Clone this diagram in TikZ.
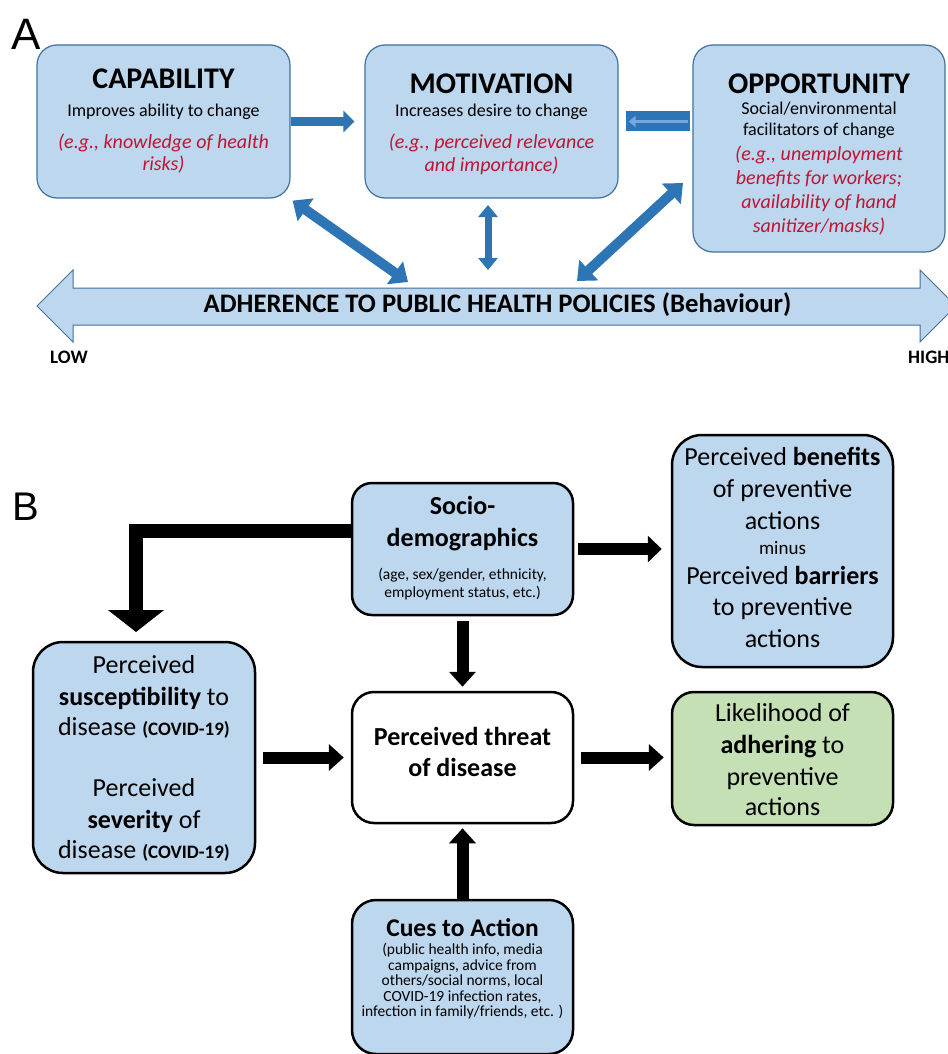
\documentclass[tikz,border=0pt]{standalone}
\usepackage{fontspec}
\setmainfont{Carlito}
\newfontfamily\labelfont{Liberation Sans}
\usetikzlibrary{arrows.meta}
\lineskiplimit=-100pt
\definecolor{boxblue}{RGB}{189,215,238}
\definecolor{edgeblue}{RGB}{65,113,156}
\definecolor{arrblue}{RGB}{46,117,182}
\definecolor{innerblue}{RGB}{115,168,222}
\definecolor{redtxt}{RGB}{192,20,50}
\definecolor{boxgreen}{RGB}{197,224,180}
\newcommand\ft[1]{\fontsize{#1}{15}\selectfont}
\begin{document}
\begin{tikzpicture}[x=1pt,y=-1pt,
  abox/.style={draw=edgeblue, line width=1.2pt, fill=boxblue, rounded corners=20pt, inner sep=0pt},
  bbox/.style={draw=black, line width=2.5pt, rounded corners=#1, inner sep=0pt},
  txt/.style={anchor=north, align=center, inner sep=0pt, font=\fontsize{10}{15}\selectfont},
  ablue/.style={draw=arrblue, line width=#1},
  bblack/.style={draw=black, line width=#1},
]
\useasboundingbox (0,0) rectangle (947,1054);
\fill[white] (0,0) rectangle (947,1054);

% ---------------- Panel A ----------------
\node[anchor=base west, inner sep=0pt, font=\labelfont\fontsize{44}{44}\selectfont] (labA) at (11,50) {A};

\node[abox, minimum width=253pt, minimum height=153pt] (cap) at (163.5,121.5) {};
\node[abox, minimum width=253pt, minimum height=153pt] (mot) at (491.5,121.5) {};
\node[abox, minimum width=252pt, minimum height=207pt] (opp) at (819,148.5) {};

\node[txt] (capt) at (163.5,68.7) {{\ft{30}\bfseries CAPABILITY}\\[13pt]
  {\ft{18}Improves ability to change}\\[17pt]
  {\ft{20}\itshape\color{redtxt}(e.g., knowledge of health}\\[7pt]
  {\ft{20}\itshape\color{redtxt}risks)}};
\node[txt] (mott) at (491.5,73.5) {{\ft{30}\bfseries MOTIVATION}\\[8pt]
  {\ft{18}Increases desire to change}\\[17pt]
  {\ft{20}\itshape\color{redtxt}(e.g., perceived relevance}\\[8pt]
  {\ft{20}\itshape\color{redtxt}and importance)}};
\node[txt] (oppt) at (819,73.5) {{\ft{30}\bfseries OPPORTUNITY}\\[6pt]
  {\ft{18}Social/environmental}\\[6pt]
  {\ft{18}facilitators of change}\\[10pt]
  {\ft{20}\itshape\color{redtxt}(e.g., unemployment}\\[9pt]
  {\ft{20}\itshape\color{redtxt}benefits for workers;}\\[9pt]
  {\ft{20}\itshape\color{redtxt}availability of hand}\\[9pt]
  {\ft{20}\itshape\color{redtxt}sanitizer/masks)}};

% big double arrow (behaviour axis)
\filldraw[fill=boxblue, draw=edgeblue, line width=1pt]
  (37,306) -- (73,270) -- (73,288) -- (920,288) -- (920,270) -- (956,306)
  -- (920,342) -- (920,325) -- (73,325) -- (73,342) -- cycle;
\node[anchor=base, inner sep=0pt, font=\ft{26.7}\bfseries] (bar) at (497.5,312)
  {ADHERENCE TO PUBLIC HEALTH POLICIES (Behaviour)};
\node[anchor=base west, inner sep=0pt, font=\ft{19}\bfseries] (low) at (50,363) {LOW};
\node[anchor=base west, inner sep=0pt, font=\ft{19}\bfseries] (high) at (908,363) {HIGH};

\coordinate (barA) at (408,282);
\coordinate (barB) at (488,270);
\coordinate (motB) at (488,205);
\coordinate (oppC) at (683,183);
\coordinate (barC) at (577,281);

% arrows panel A
\draw[ablue=9pt, -{Triangle[length=11pt,width=21pt]}] (cap.east) -- ([xshift=-10pt]mot.west);
\draw[ablue=20pt] ([xshift=-2pt]opp.west |- mot.east) -- ([xshift=7pt]mot.east);
\draw[draw=innerblue, line width=3.5pt, -{Triangle[length=7pt,width=11pt]}]
  ([xshift=-4pt]opp.west |- mot.east) -- ([xshift=10pt]mot.east);
\draw[ablue=10pt, {Triangle[length=16pt,width=27pt]}-{Triangle[length=16pt,width=27pt]}]
  ([xshift=2pt,yshift=-2pt]cap.south east) -- (barA);
\draw[ablue=7pt, {Triangle[length=12pt,width=19pt]}-{Triangle[length=12pt,width=19pt]}]
  (motB) -- (barB);
\draw[ablue=10pt, {Triangle[length=16pt,width=27pt]}-{Triangle[length=16pt,width=27pt]}]
  (oppC) -- (barC);

% ---------------- Panel B ----------------
\node[anchor=base west, inner sep=0pt, font=\labelfont\fontsize{40}{40}\selectfont] (labB) at (12,520) {B};

\node[bbox=20pt, fill=boxblue, minimum width=221pt, minimum height=132pt] (soc) at (462.5,549) {};
\node[bbox=30pt, fill=boxblue, minimum width=221pt, minimum height=232pt] (ben) at (782.5,551) {};
\node[bbox=22pt, fill=boxgreen, minimum width=221pt, minimum height=133pt] (like) at (782.5,758.5) {};
\node[bbox=22pt, fill=white, minimum width=221pt, minimum height=131pt] (thr) at (462.5,757.5) {};
\node[bbox=30pt, fill=boxblue, minimum width=222pt, minimum height=231pt] (sus) at (144,757.5) {};
\node[bbox=24pt, fill=boxblue, minimum width=221pt, minimum height=154pt] (cue) at (462.5,977) {};

\node[txt] (soct) at (462.5,496) {{\ft{26}\bfseries Socio-}\\[17pt]
  {\ft{26}\bfseries demographics}\\[18pt]
  {\ft{15.5}(age, sex/gender, ethnicity,}\\[3pt]
  {\ft{15.5}employment status, etc.)}};
\node[txt] (bent) at (782.5,447) {{\ft{26}Perceived \textbf{benefits}}\\[17pt]
  {\ft{26}of preventive}\\[17pt]
  {\ft{26}actions}\\[10pt]
  {\ft{19}minus}\\[15pt]
  {\ft{26}Perceived \textbf{barriers}}\\[16pt]
  {\ft{26}to preventive}\\[17pt]
  {\ft{26}actions}};
\node[txt] (liket) at (782.5,703) {{\ft{26}Likelihood of}\\[17pt]
  {\ft{26}\textbf{adhering} to}\\[17pt]
  {\ft{26}preventive}\\[15pt]
  {\ft{26}actions}};
\node[txt] (thrt) at (462.5,727.5) {{\ft{26}\bfseries Perceived threat}\\[16pt]
  {\ft{26}\bfseries of disease}};
\node[txt] (sust) at (144,655) {{\ft{26}Perceived}\\[17pt]
  {\ft{26}\textbf{susceptibility} to}\\[15pt]
  {\ft{26}disease \ft{19}\textbf{(COVID-19)}}\\[46pt]
  {\ft{26}Perceived}\\[17pt]
  {\ft{26}\textbf{severity} of}\\[15pt]
  {\ft{26}disease \ft{19}\textbf{(COVID-19)}}};
\node[txt] (cuet) at (462.5,918) {{\ft{25.5}\bfseries Cues to Action}\\[3pt]
  {\ft{15.5}(public health info, media}\\[1pt]
  {\ft{15.5}campaigns, advice from}\\[0pt]
  {\ft{15.5}others/social norms, local}\\[1pt]
  {\ft{15.5}COVID-19 infection rates,}\\[0pt]
  {\ft{15.5}infection in family/friends, etc. )}};

\coordinate (elbowtip) at (136,632);

\draw[bblack=14pt, line join=miter, -{Triangle[length=22pt,width=55pt]}]
  ([yshift=18pt]soc.west) -| (elbowtip);
\draw[bblack=12pt, -{Triangle[length=14pt,width=26pt]}]
  ([xshift=4pt]soc.east) -- ([xshift=-9pt]ben.west |- soc.east);
\draw[bblack=12pt, -{Triangle[length=15pt,width=26pt]}]
  ([yshift=-5pt]soc.south) -- ([yshift=4pt]thr.north);
\draw[bblack=12pt, -{Triangle[length=15pt,width=26pt]}]
  ([xshift=7pt]sus.east) -- ([xshift=-7pt]thr.west);
\draw[bblack=12pt, -{Triangle[length=15pt,width=26pt]}]
  ([xshift=7pt]thr.east) -- ([xshift=-7pt]like.west |- thr.east);
\draw[bblack=12pt, -{Triangle[length=15pt,width=26pt]}]
  (cue.north) -- ([yshift=-4pt]thr.south);
\end{tikzpicture}
\end{document}
